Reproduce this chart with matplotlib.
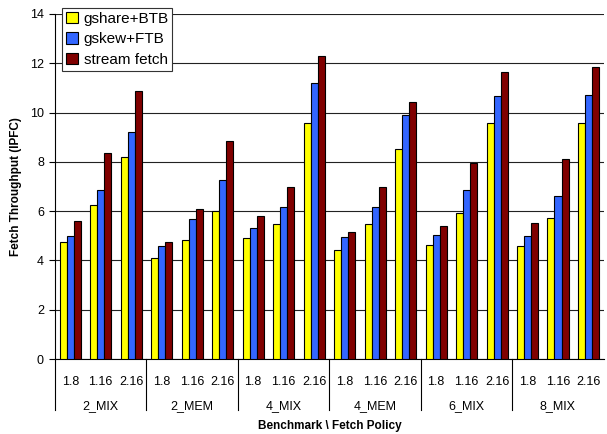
import numpy as np
import matplotlib.pyplot as plt
import matplotlib.transforms as mtransforms

plt.rcParams['font.family'] = ['Liberation Sans', 'DejaVu Sans']

benchmarks = ["2_MIX", "2_MEM", "4_MIX", "4_MEM", "6_MIX", "8_MIX"]
policies = ["1.8", "1.16", "2.16"]
series_names = ["gshare+BTB", "gskew+FTB", "stream fetch"]

# one value per (benchmark, policy), benchmark-major order
gshare_btb = [4.74, 6.24, 8.20,  4.09, 4.82, 6.02,  4.90, 5.49, 9.56,
              4.42, 5.49, 8.51,  4.64, 5.93, 9.56,  4.57, 5.71, 9.56]
gskew_ftb = [4.99, 6.87, 9.21,  4.60, 5.68, 7.25,  5.33, 6.16, 11.21,
             4.95, 6.16, 9.89,  5.03, 6.85, 10.67,  4.98, 6.60, 10.70]
stream_fetch = [5.59, 8.36, 10.86,  4.76, 6.09, 8.86,  5.79, 6.98, 12.30,
                5.14, 6.98, 10.43,  5.41, 7.94, 11.63,  5.51, 8.10, 11.85]

colors = ["#FFFF00", "#3366FF", "#800000"]

fig = plt.figure(figsize=(6.07, 4.34), dpi=100)
ax = fig.add_axes([0.0906, 0.1728, 0.904, 0.795])

n = len(benchmarks) * len(policies)
x = np.arange(n)
w = 0.23
for k, (vals, name, col) in enumerate(zip([gshare_btb, gskew_ftb, stream_fetch], series_names, colors)):
    ax.bar(x + (k - 1) * w, vals, width=w, color=col, edgecolor="black",
           linewidth=0.8, label=name, zorder=3)

ax.set_xlim(-0.5, n - 0.5)
ax.set_ylim(0, 14)
ax.set_yticks(np.arange(0, 15, 2))
ax.yaxis.grid(True, color="#222222", linewidth=0.8, zorder=0)
ax.tick_params(axis="y", direction="out", length=4, width=0.8, labelsize=9, pad=4)
for s in ["top", "right"]:
    ax.spines[s].set_visible(False)
ax.spines["left"].set_linewidth(0.8)
ax.spines["bottom"].set_linewidth(0.8)

# policy labels under each cluster
ax.set_xticks(x)
ax.set_xticklabels(policies * len(benchmarks), fontsize=9)
ax.tick_params(axis="x", length=0, pad=12)

# benchmark labels and dividers
trans = mtransforms.blended_transform_factory(ax.transData, ax.transAxes)
for g, name in enumerate(benchmarks):
    centre = g * len(policies) + 1
    ax.text(centre, -0.135, name, transform=trans, ha="center", va="center", fontsize=9)
    left = g * len(policies) - 0.5
    ax.plot([left, left], [0, -0.148], transform=trans, color="black",
            linewidth=0.8, clip_on=False)

ax.set_xlabel("Benchmark \\ Fetch Policy", fontsize=8.5, fontweight="bold", labelpad=23)
ax.set_ylabel("Fetch Throughput (IPFC)", fontsize=8.5, fontweight="bold", labelpad=6)

leg = ax.legend(loc="upper left", bbox_to_anchor=(0.013, 1.018), fontsize=11,
                frameon=True, fancybox=False, framealpha=1, edgecolor="#333333",
                handlelength=0.8, handleheight=0.8, handletextpad=0.35,
                borderpad=0.25, labelspacing=0.42, borderaxespad=0)
leg.get_frame().set_linewidth(0.8)

fig.savefig("out.png", dpi=100)
